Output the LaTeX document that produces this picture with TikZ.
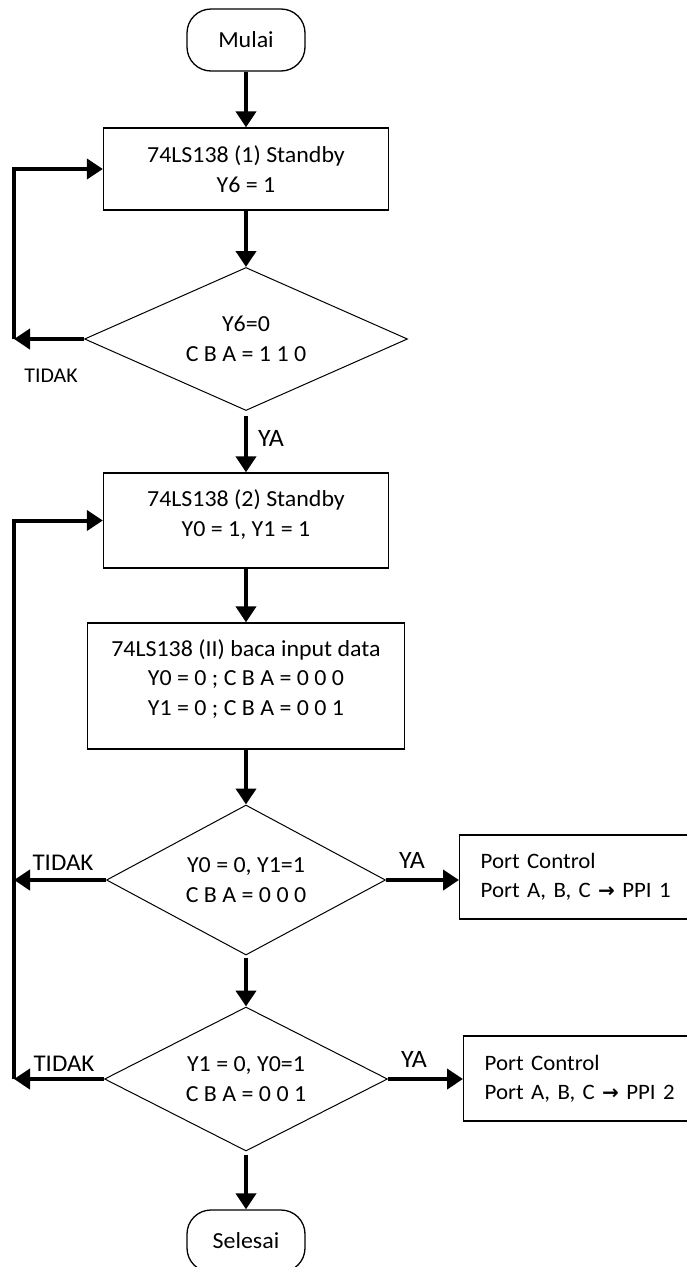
\documentclass[tikz,border=0pt]{standalone}
\usepackage{fontspec}
\setmainfont{Carlito}[FakeStretch=1.04]
\newfontfamily\arrowfont{DejaVu Sans}
\usepackage{tikz}
\usetikzlibrary{positioning,shapes.geometric,arrows.meta,calc}
\newcommand{\pointto}{{\arrowfont\bfseries\fontsize{20}{20}\selectfont →}}
\tikzset{
  font=\fontsize{23}{29.5}\selectfont,
  >={Triangle[length=16pt,width=20pt]},
  term/.style     = {draw, line width=1.3pt, rounded corners=24pt,
                     minimum width=118pt, minimum height=62pt, inner sep=0pt},
  proc/.style     = {draw, line width=1.3pt, align=center, inner sep=0pt},
  cond/.style     = {diamond, draw, line width=1pt, aspect=2.2,
                     align=center, inner sep=0pt},
  port/.style     = {draw, line width=1.3pt, anchor=west, align=left,
                     text width=240pt, inner xsep=21pt, minimum height=84pt,
                     font=\fontsize{22}{29}\selectfont},
  flow/.style     = {->, line width=4pt},
  lblya/.style    = {font=\fontsize{25}{28}\selectfont, inner sep=0pt},
  lbltidak/.style = {font=\fontsize{24}{28}\selectfont, inner sep=0pt},
}

\begin{document}
\begin{tikzpicture}[x=1pt, y=-1pt]
\useasboundingbox (0,0) rectangle (686,1267);

% ---------------- decoder (1) -----------------------------------------
\node[term] (start) at (246,40) {Mulai};
\node[proc, minimum width=285pt, minimum height=82pt] (sb1) at (246,169)
  {74LS138 (1) Standby\\Y6 = 1};
\node[cond, minimum width=323pt, minimum height=143pt] (cek6) at (246,339)
  {Y6=0\\C B A = 1 1 0};
\coordinate (back1) at (14,339);

\draw[flow] (start) -- (sb1);
\draw[flow] (sb1) -- (cek6.north);
\draw[flow] (cek6.west) -- (back1);
\draw[flow] (back1) |- (sb1.west);
\node[lbltidak, font=\fontsize{21}{24}\selectfont] (tidak1) at (51,376) {TIDAK};

% ---------------- decoder (2) -----------------------------------------
\node[proc, minimum width=285pt, minimum height=95pt, text depth=15pt] (sb2)
  at (246,520.5) {74LS138 (2) Standby\\Y0 = 1, Y1 = 1};
\node[proc, minimum width=317pt, minimum height=126pt, text depth=17pt] (baca)
  at (246,686) {74LS138 (II) baca input data\\Y0 = 0 ; C B A = 0 0 0\\Y1 = 0 ; C B A = 0 0 1};

\draw[flow, shorten <=5pt] (cek6.south) -- (sb2.north);
\node[lblya] (ya1) at (271,438) {YA};
\draw[flow] (sb2) -- (baca);

% ---------------- pilih PPI -------------------------------------------
\node[cond, minimum width=279pt, minimum height=150pt] (cek0) at (246,880)
  {Y0 = 0, Y1=1\\C B A = 0 0 0};
\node[port] (ppi1) at (459,877)
  {Port Control\\Port A, B, C \pointto{} PPI 1};
\node[cond, minimum width=283pt, minimum height=144pt] (cek1) at (246,1079)
  {Y1 = 0, Y0=1\\C B A = 0 0 1};
\node[port, minimum height=85pt] (ppi2) at (463,1078.5)
  {Port Control\\Port A, B, C \pointto{} PPI 2};
\node[term] (stop) at (246,1241) {Selesai};
\coordinate (back2) at (14,880);
\coordinate (back3) at (14,1079);

\draw[flow] (baca.south) -- (cek0.north);
\draw[flow] (cek0.west) -- (back2);
\draw[flow] (cek0.east) -- (cek0.east -| ppi1.west);
\draw[flow, shorten <=2pt] (cek0.south) -- (cek1.north);
\draw[flow] (cek1.west) -- (back3);
\draw[flow] (cek1.east) -- (cek1.east -| ppi2.west);
\draw[flow] (back3) |- (sb2.west);
\draw[flow, shorten <=3pt] (cek1.south) -- (stop.north);

\node[lbltidak] (tidak2) at (63,863) {TIDAK};
\node[lblya] (ya2) at (412,860) {YA};
\node[lbltidak] (tidak3) at (64,1064) {TIDAK};
\node[lblya] (ya3) at (414,1059) {YA};

\end{tikzpicture}
\end{document}
